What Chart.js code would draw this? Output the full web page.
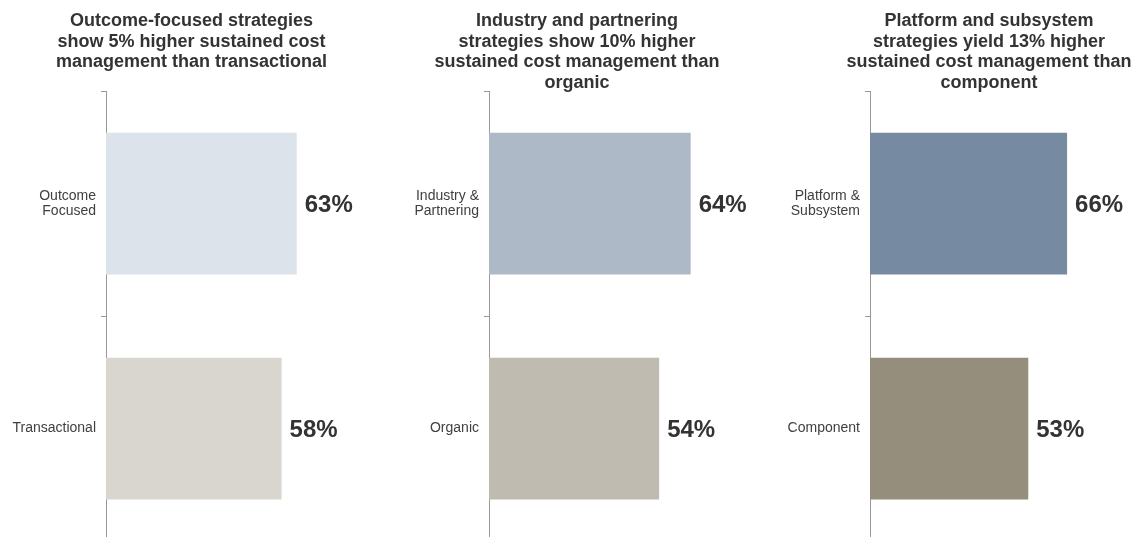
<!DOCTYPE html>
<html>
<head>
<meta charset="utf-8">
<script src="https://cdn.jsdelivr.net/npm/chart.js@4"></script>
<style>
  html, body { margin: 0; padding: 0; background: #fff; overflow: hidden; }
  #wrap { position: relative; width: 1138px; height: 537px; overflow: hidden; }
  canvas { position: absolute; top: 0; }
</style>
</head>
<body>
<div id="wrap">
  <canvas id="c0" width="383" height="561" style="left:0px"></canvas>
  <canvas id="c1" width="388" height="561" style="left:383px"></canvas>
  <canvas id="c2" width="450" height="561" style="left:764px"></canvas>
</div>
<script>
// headings, one array of lines per panel
let titles = [
  ["Outcome-focused strategies", "show 5% higher sustained cost", "management than transactional"],
  ["Industry and partnering", "strategies show 10% higher", "sustained cost management than", "organic"],
  ["Platform and subsystem", "strategies yield 13% higher", "sustained cost management than", "component"],
];
let categories = [
  [["Outcome", "Focused"], "Transactional"],
  [["Industry &", "Partnering"], "Organic"],
  [["Platform &", "Subsystem"], "Component"],
];
// sustained cost management, percent
let values = [
  [63, 58],
  [64, 54],
  [66, 53],
];

// panel styling
let barColors = [
  ["#dce3ea", "#d9d6cf"],
  ["#adb9c6", "#bfbbb0"],
  ["#768ba2", "#968e7c"],
];
let axisMax = [91.5, 89.5, 115.2];
let fontFamily = "'Liberation Sans', Arial, Helvetica, sans-serif";
let plotTop = 91;
let titleLine = 20.5;

// writes "63%" etc. to the right of each bar
const valueLabels = {
  id: "valueLabels",
  afterDatasetsDraw(chart) {
    let ctx = chart.ctx;
    let meta = chart.getDatasetMeta(0);
    let data = chart.data.datasets[0].data;
    ctx.save();
    ctx.font = "bold 24px " + fontFamily;
    ctx.fillStyle = "#333333";
    ctx.textAlign = "left";
    ctx.textBaseline = "middle";
    meta.data.forEach((bar, i) => {
      ctx.fillText(data[i] + "%", bar.x + 8, bar.y + 2);
    });
    ctx.restore();
  },
};

function makePanel(i) {
  let ctx = document.getElementById("c" + i).getContext("2d");
  let lines = titles[i].length;
  return new Chart(ctx, {
    type: "bar",
    data: {
      labels: categories[i],
      datasets: [
        {
          data: values[i],
          backgroundColor: barColors[i],
          borderWidth: 0,
          barPercentage: 0.63,
          categoryPercentage: 1,
        },
      ],
    },
    options: {
      indexAxis: "y",
      responsive: false,
      animation: false,
      events: [],
      layout: { padding: 0 },
      plugins: {
        legend: { display: false },
        tooltip: { enabled: false },
        title: {
          display: true,
          text: titles[i],
          color: "#333333",
          font: { family: fontFamily, size: 18, weight: "bold", lineHeight: titleLine + "px" },
          // keep the plot top at the same height whatever the number of lines
          padding: { top: 11, bottom: plotTop - 11 - lines * titleLine },
        },
      },
      scales: {
        x: { display: false, min: 0, max: axisMax[i] },
        y: {
          grid: {
            display: true,
            drawOnChartArea: false,
            drawTicks: true,
            tickLength: 5,
            color: "#999999",
            offset: true,
          },
          border: { display: true, color: "#999999", width: 1 },
          ticks: {
            color: "#404040",
            padding: 5,
            autoSkip: false,
            font: { family: fontFamily, size: 14, lineHeight: 1.07 },
          },
          afterFit: (scale) => {
            scale.width = 106;
          },
        },
      },
    },
    plugins: [valueLabels],
  });
}

for (let i = 0; i < 3; i++) {
  makePanel(i);
}
</script>
</body>
</html>
